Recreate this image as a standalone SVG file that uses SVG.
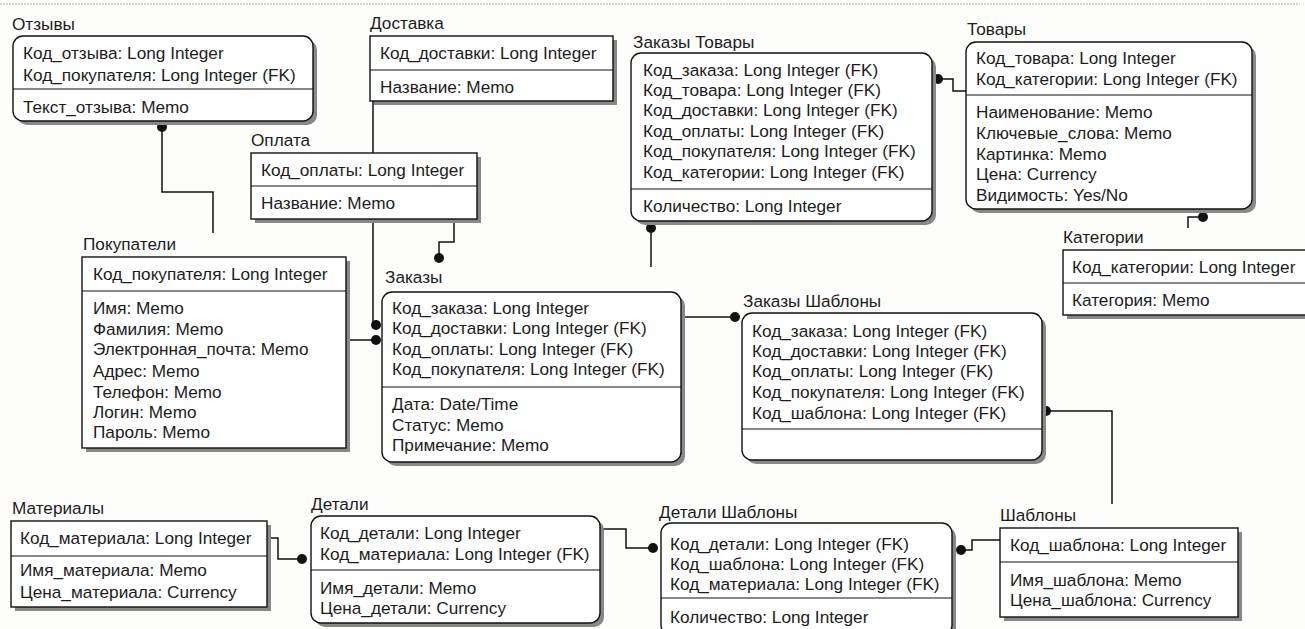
<svg xmlns="http://www.w3.org/2000/svg" width="1305" height="629" viewBox="0 0 1305 629">
<style>
.bg{fill:#fdfdfc}
.box{fill:#fff;stroke:#111;stroke-width:1.4}
.sh{fill:#888}
.dv{stroke:#111;stroke-width:1.2}
.t{font-family:"Liberation Sans",Arial,sans-serif;font-size:17.2px;fill:#1c1c1c}
.c{fill:none;stroke:#111;stroke-width:1.5}
.dot{fill:#111}
</style>
<rect class="bg" x="0" y="0" width="1305" height="629"/>
<line x1="0" y1="4" x2="1300" y2="4" stroke="#aaa" stroke-width="1.2" stroke-dasharray="2 1"/>

<g id="connectors">
  <path class="c" d="M162,127 V192 H213 V233"/>
  <circle class="dot" cx="162" cy="127" r="5"/>
  <path class="c" d="M373,101 V325 H376"/>
  <circle class="dot" cx="376" cy="325" r="5"/>
  <path class="c" d="M346,340 H376"/>
  <circle class="dot" cx="376" cy="340" r="5"/>
  <path class="c" d="M454,219 V242 H439 V258"/>
  <circle class="dot" cx="439" cy="258" r="5"/>
  <path class="c" d="M681,317 H735"/>
  <circle class="dot" cx="735" cy="317" r="5"/>
  <path class="c" d="M651,228 V267"/>
  <circle class="dot" cx="651" cy="228" r="5"/>
  <path class="c" d="M938,79 H953 V91 H966"/>
  <circle class="dot" cx="938" cy="79" r="5"/>
  <path class="c" d="M1203,217 H1188 V228"/>
  <circle class="dot" cx="1203" cy="217" r="5"/>
  <path class="c" d="M1046,411 H1112 V504"/>
  <circle class="dot" cx="1046" cy="411" r="5"/>
  <path class="c" d="M961,550 H972 V540 H1000"/>
  <circle class="dot" cx="961" cy="550" r="5"/>
  <path class="c" d="M600,529 H626 V548 H653"/>
  <circle class="dot" cx="653" cy="548" r="5"/>
  <path class="c" d="M267,538 H278 V559 H302"/>
  <circle class="dot" cx="302" cy="559" r="5"/>
</g>

<g id="otzyvy">
  <text class="t" x="12" y="30">Отзывы</text>
  <rect class="sh" x="17" y="40" width="300" height="85" rx="10"/>
  <rect class="box" x="13" y="36" width="300" height="85" rx="10"/>
  <line class="dv" x1="13" y1="89" x2="313" y2="89"/>
  <text class="t" x="23" y="59">Код_отзыва: Long Integer</text>
  <text class="t" x="23" y="81">Код_покупателя: Long Integer (FK)</text>
  <text class="t" x="23" y="113">Текст_отзыва: Memo</text>
</g>

<g id="dostavka">
  <text class="t" x="370" y="29">Доставка</text>
  <rect class="sh" x="374" y="40" width="243" height="65"/>
  <rect class="box" x="370" y="36" width="243" height="65"/>
  <line class="dv" x1="370" y1="70" x2="613" y2="70"/>
  <text class="t" x="380" y="59">Код_доставки: Long Integer</text>
  <text class="t" x="380" y="93">Название: Memo</text>
</g>

<g id="oplata">
  <text class="t" x="251" y="146">Оплата</text>
  <rect class="sh" x="255" y="157" width="226" height="66"/>
  <rect class="box" x="251" y="153" width="226" height="66"/>
  <line class="dv" x1="251" y1="186" x2="477" y2="186"/>
  <text class="t" x="261" y="176">Код_оплаты: Long Integer</text>
  <text class="t" x="261" y="209">Название: Memo</text>
</g>

<g id="zakazy-tovary">
  <text class="t" x="633" y="48">Заказы Товары</text>
  <rect class="sh" x="635" y="57" width="301" height="168" rx="10"/>
  <rect class="box" x="631" y="53" width="301" height="168" rx="10"/>
  <line class="dv" x1="631" y1="189" x2="932" y2="189"/>
  <text class="t" x="643" y="76">Код_заказа: Long Integer (FK)</text>
  <text class="t" x="643" y="96">Код_товара: Long Integer (FK)</text>
  <text class="t" x="643" y="116">Код_доставки: Long Integer (FK)</text>
  <text class="t" x="643" y="137">Код_оплаты: Long Integer (FK)</text>
  <text class="t" x="643" y="157">Код_покупателя: Long Integer (FK)</text>
  <text class="t" x="643" y="178">Код_категории: Long Integer (FK)</text>
  <text class="t" x="643" y="212">Количество: Long Integer</text>
</g>

<g id="tovary">
  <text class="t" x="967" y="35">Товары</text>
  <rect class="sh" x="970" y="46" width="286" height="167" rx="10"/>
  <rect class="box" x="966" y="42" width="286" height="167" rx="10"/>
  <line class="dv" x1="966" y1="95" x2="1252" y2="95"/>
  <text class="t" x="976" y="64">Код_товара: Long Integer</text>
  <text class="t" x="976" y="85">Код_категории: Long Integer (FK)</text>
  <text class="t" x="976" y="118">Наименование: Memo</text>
  <text class="t" x="976" y="139">Ключевые_слова: Memo</text>
  <text class="t" x="976" y="160">Картинка: Memo</text>
  <text class="t" x="976" y="180">Цена: Currency</text>
  <text class="t" x="976" y="201">Видимость: Yes/No</text>
</g>

<g id="kategorii">
  <text class="t" x="1063" y="243">Категории</text>
  <rect class="sh" x="1067" y="254" width="250" height="65"/>
  <rect class="box" x="1063" y="250" width="250" height="65"/>
  <line class="dv" x1="1063" y1="283" x2="1313" y2="283"/>
  <text class="t" x="1072" y="273">Код_категории: Long Integer</text>
  <text class="t" x="1072" y="306">Категория: Memo</text>
</g>

<g id="pokupateli">
  <text class="t" x="83" y="250">Покупатели</text>
  <rect class="sh" x="86" y="261" width="264" height="191"/>
  <rect class="box" x="82" y="257" width="264" height="191"/>
  <line class="dv" x1="82" y1="291" x2="346" y2="291"/>
  <text class="t" x="93" y="280">Код_покупателя: Long Integer</text>
  <text class="t" x="93" y="314">Имя: Memo</text>
  <text class="t" x="93" y="335">Фамилия: Memo</text>
  <text class="t" x="93" y="355">Электронная_почта: Memo</text>
  <text class="t" x="93" y="377">Адрес: Memo</text>
  <text class="t" x="93" y="398">Телефон: Memo</text>
  <text class="t" x="93" y="418">Логин: Memo</text>
  <text class="t" x="93" y="438">Пароль: Memo</text>
</g>

<g id="zakazy">
  <text class="t" x="385" y="283">Заказы</text>
  <rect class="sh" x="386" y="296" width="299" height="170" rx="10"/>
  <rect class="box" x="382" y="292" width="299" height="170" rx="10"/>
  <line class="dv" x1="382" y1="387" x2="681" y2="387"/>
  <text class="t" x="392" y="314">Код_заказа: Long Integer</text>
  <text class="t" x="392" y="334">Код_доставки: Long Integer (FK)</text>
  <text class="t" x="392" y="355">Код_оплаты: Long Integer (FK)</text>
  <text class="t" x="392" y="375">Код_покупателя: Long Integer (FK)</text>
  <text class="t" x="392" y="410">Дата: Date/Time</text>
  <text class="t" x="392" y="431">Статус: Memo</text>
  <text class="t" x="392" y="451">Примечание: Memo</text>
</g>

<g id="zakazy-shablony">
  <text class="t" x="743" y="307">Заказы Шаблоны</text>
  <rect class="sh" x="746" y="317" width="300" height="147" rx="10"/>
  <rect class="box" x="742" y="313" width="300" height="147" rx="10"/>
  <line class="dv" x1="742" y1="429" x2="1042" y2="429"/>
  <text class="t" x="752" y="337">Код_заказа: Long Integer (FK)</text>
  <text class="t" x="752" y="357">Код_доставки: Long Integer (FK)</text>
  <text class="t" x="752" y="377">Код_оплаты: Long Integer (FK)</text>
  <text class="t" x="752" y="398">Код_покупателя: Long Integer (FK)</text>
  <text class="t" x="752" y="419">Код_шаблона: Long Integer (FK)</text>
</g>

<g id="materialy">
  <text class="t" x="12" y="514">Материалы</text>
  <rect class="sh" x="15" y="525" width="256" height="86"/>
  <rect class="box" x="11" y="521" width="256" height="86"/>
  <line class="dv" x1="11" y1="556" x2="267" y2="556"/>
  <text class="t" x="20" y="544">Код_материала: Long Integer</text>
  <text class="t" x="20" y="576">Имя_материала: Memo</text>
  <text class="t" x="20" y="598">Цена_материала: Currency</text>
</g>

<g id="detali">
  <text class="t" x="311" y="510">Детали</text>
  <rect class="sh" x="315" y="520" width="289" height="107" rx="10"/>
  <rect class="box" x="311" y="516" width="289" height="107" rx="10"/>
  <line class="dv" x1="311" y1="570" x2="600" y2="570"/>
  <text class="t" x="320" y="539">Код_детали: Long Integer</text>
  <text class="t" x="320" y="560">Код_материала: Long Integer (FK)</text>
  <text class="t" x="320" y="594">Имя_детали: Memo</text>
  <text class="t" x="320" y="614">Цена_детали: Currency</text>
</g>

<g id="detali-shablony">
  <text class="t" x="659" y="518">Детали Шаблоны</text>
  <rect class="sh" x="665" y="527" width="291" height="112" rx="10"/>
  <rect class="box" x="661" y="523" width="291" height="112" rx="10"/>
  <line class="dv" x1="661" y1="598" x2="952" y2="598"/>
  <text class="t" x="670" y="550">Код_детали: Long Integer (FK)</text>
  <text class="t" x="670" y="570">Код_шаблона: Long Integer (FK)</text>
  <text class="t" x="670" y="590">Код_материала: Long Integer (FK)</text>
  <text class="t" x="670" y="623">Количество: Long Integer</text>
</g>

<g id="shablony">
  <text class="t" x="1000" y="521">Шаблоны</text>
  <rect class="sh" x="1004" y="532" width="238" height="89"/>
  <rect class="box" x="1000" y="528" width="238" height="89"/>
  <line class="dv" x1="1000" y1="562" x2="1238" y2="562"/>
  <text class="t" x="1010" y="551">Код_шаблона: Long Integer</text>
  <text class="t" x="1010" y="586">Имя_шаблона: Memo</text>
  <text class="t" x="1010" y="606">Цена_шаблона: Currency</text>
</g>
</svg>
